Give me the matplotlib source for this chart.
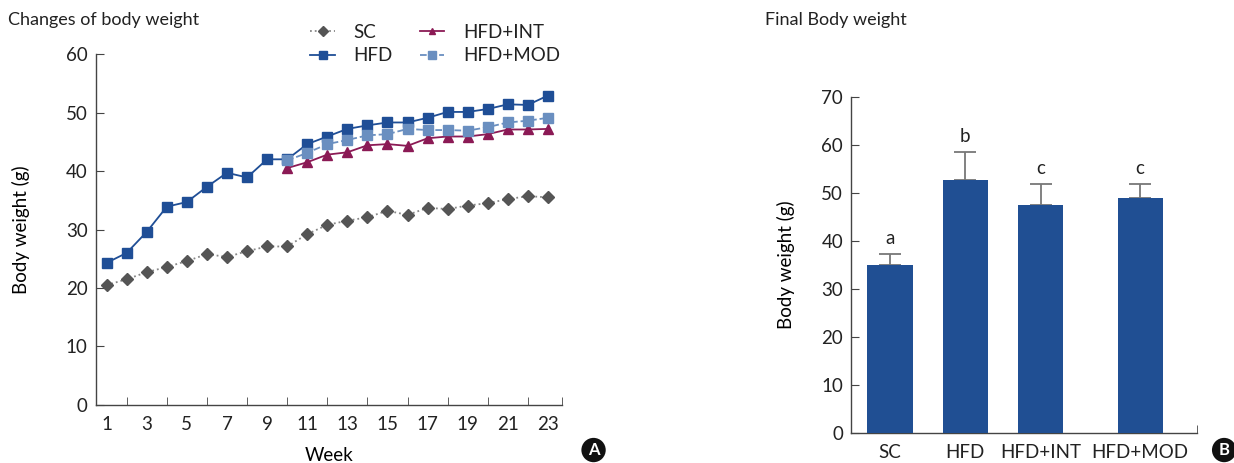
import matplotlib
matplotlib.use("Agg")
import matplotlib.pyplot as plt
from matplotlib.ticker import FixedLocator

plt.rcParams.update({"font.family": ["Lato", "DejaVu Sans"], "font.size": 13,
    "axes.edgecolor": "#444444", "axes.linewidth": 1.0,
    "xtick.color": "#444444", "ytick.color": "#444444",
    "xtick.labelcolor": "#222222", "ytick.labelcolor": "#222222", "text.color": "#222222"})

NAVY = "#1f4e96"; GREY = "#555555"; MAROON = "#8b1a55"; STEEL = "#6a8fc0"

# ---- data ----
weeks = list(range(1, 24))
sc = [20.5, 21.5, 22.7, 23.6, 24.6, 25.8, 25.3, 26.3, 27.1, 27.1, 29.2, 30.8,
      31.5, 32.1, 33.2, 32.5, 33.7, 33.5, 34.1, 34.5, 35.2, 35.7, 35.5]
hfd = [24.3, 26.0, 29.6, 33.9, 34.7, 37.3, 39.7, 38.9, 42.0, 42.0, 44.6, 45.9,
       47.2, 47.8, 48.3, 48.3, 49.1, 50.1, 50.1, 50.6, 51.4, 51.3, 52.9]
weeks_trt = list(range(10, 24))
hfd_int = [40.5, 41.5, 42.8, 43.2, 44.4, 44.6, 44.3, 45.6, 45.9, 45.9, 46.3, 47.1, 47.1, 47.2]
hfd_mod = [41.8, 43.1, 44.6, 45.3, 46.1, 46.3, 47.2, 47.0, 47.0, 46.9, 47.5, 48.3, 48.6, 49.1]

groups = ["SC", "HFD", "HFD+INT", "HFD+MOD"]
final_bw = [35.0, 52.6, 47.4, 48.9]
final_err = [2.2, 5.9, 4.4, 2.9]
letters = ["a", "b", "c", "c"]

fig = plt.figure(figsize=(12.34, 4.63), dpi=100)
fig.patch.set_facecolor("white")

# ---- A: changes of body weight ----
ax = fig.add_axes([0.0778, 0.1253, 0.3776, 0.758])
ax.plot(weeks, sc, ":", color="#888888", lw=1.3, marker="D", ms=6.5,
        mfc=GREY, mec=GREY, label="SC")
ax.plot(weeks, hfd, "-", color=NAVY, lw=1.3, marker="s", ms=7, mfc=NAVY, mec=NAVY, label="HFD")
ax.plot(weeks_trt, hfd_int, "-", color=MAROON, lw=1.3, marker="^", ms=6.5,
        mfc=MAROON, mec=MAROON, label="HFD+INT")
ax.plot(weeks_trt, hfd_mod, "--", color=STEEL, lw=1.3, marker="s", ms=7,
        mfc=STEEL, mec=STEEL, label="HFD+MOD")
ax.set_xlim(0.47, 23.7); ax.set_ylim(0, 60)
ax.set_xticks(range(1, 24, 2))
ax.xaxis.set_minor_locator(FixedLocator(list(range(2, 23, 2)) + [23.7]))
ax.tick_params(axis="x", which="major", length=0, pad=8, labelsize=13.5)
ax.tick_params(axis="x", which="minor", direction="in", length=6)
ax.set_yticks(range(0, 61, 10))
ax.tick_params(axis="y", direction="in", length=6, labelsize=13.5, pad=6)
ax.spines[["top", "right"]].set_visible(False)
ax.set_xlabel("Week", fontsize=13.5, labelpad=10)
ax.set_ylabel("Body weight (g)", fontsize=13.5, labelpad=26)
ax.legend(ncol=2, frameon=False, loc="upper left", bbox_to_anchor=(0.424, 1.134),
          fontsize=13.5, markerscale=0.75, handlelength=1.3, columnspacing=1.45,
          labelspacing=0.35, handletextpad=1.0)
fig.text(0.0065, 0.957, "Changes of body weight", fontsize=13, va="center", ha="left")

# ---- B: final body weight ----
pos = [0, 1.0, 2.0, 3.32]
bx = fig.add_axes([0.690, 0.0641, 0.2804, 0.727])
bx.bar(pos, final_bw, width=0.6, color="#204f93", zorder=3)
bx.errorbar(pos, final_bw, yerr=[[0] * 4, final_err], fmt="none", ecolor="#777777",
            elinewidth=1.3, capsize=8, capthick=1.3, zorder=2)
for x, v, e, t in zip(pos, final_bw, final_err, letters):
    bx.text(x, v + e + 1.5, t, ha="center", va="bottom", fontsize=13.5)
bx.set_xlim(-0.51, 4.08); bx.set_ylim(0, 70)
bx.set_xticks(pos); bx.set_xticklabels(groups)
bx.xaxis.set_minor_locator(FixedLocator([4.08]))
bx.tick_params(axis="x", which="major", length=0, pad=8, labelsize=13.5)
bx.tick_params(axis="x", which="minor", direction="in", length=6)
bx.set_yticks(range(0, 71, 10))
bx.tick_params(axis="y", direction="in", length=6, labelsize=13.5, pad=6)
bx.spines[["top", "right"]].set_visible(False)
bx.set_ylabel("Body weight (g)", fontsize=13.5, labelpad=19)
fig.text(0.620, 0.957, "Final Body weight", fontsize=13, va="center", ha="left")

# panel markers
for x, t in [(0.481, "A"), (0.992, "B")]:
    fig.text(x, 0.028, t, color="white", fontsize=12, fontweight="bold", ha="center",
             va="center", bbox=dict(boxstyle="circle,pad=0.25", fc="#111111", ec="none"))

fig.savefig("out.png", facecolor="white")
